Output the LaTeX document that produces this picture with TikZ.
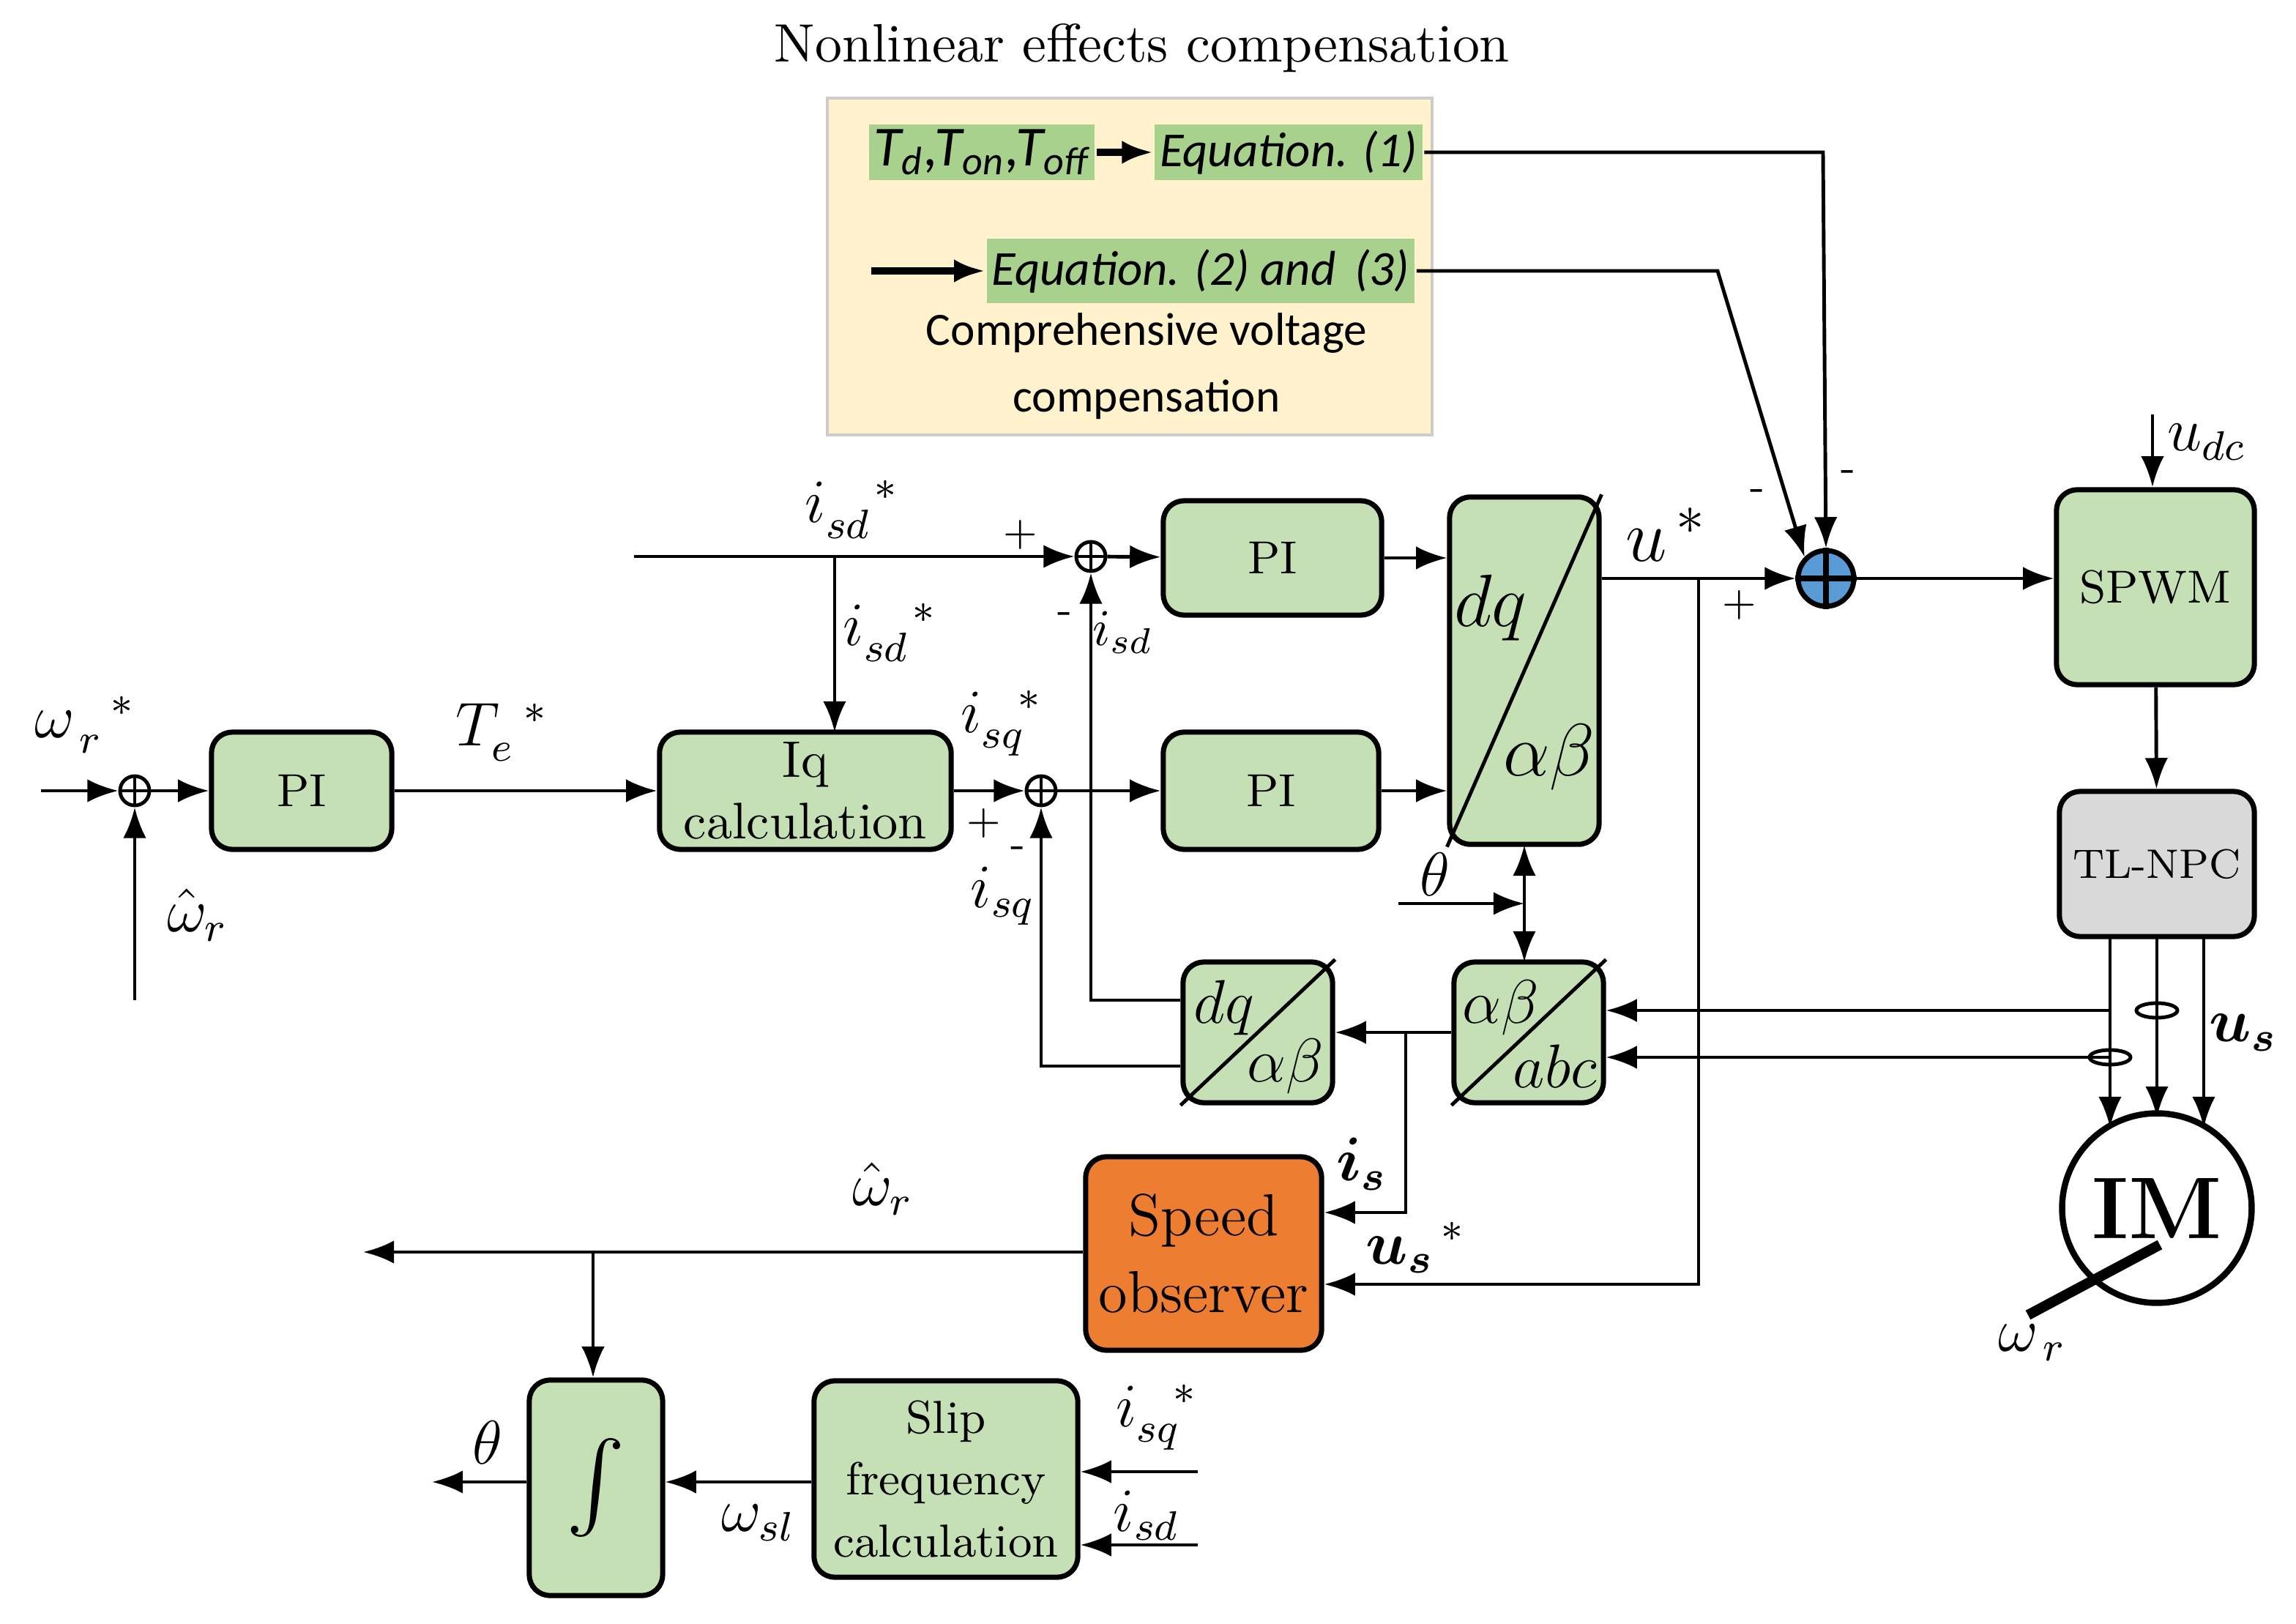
\documentclass[tikz,border=0pt]{standalone}
\usepackage{fontspec}
\usepackage{amsmath}
\newfontfamily\carl{Carlito}
\usetikzlibrary{arrows.meta}
\definecolor{blk}{HTML}{C5E0B4}
\definecolor{eqg}{HTML}{A9D18E}
\definecolor{yel}{HTML}{FFF2CC}
\definecolor{org}{HTML}{ED7D31}
\definecolor{sblue}{HTML}{5B9BD5}
\begin{document}
\begin{tikzpicture}[x=0.01cm,y=-0.01cm,
 >={Latex[length=6pt,width=4.5pt]}, line width=0.7pt,
 blk/.style={draw,fill=blk,rounded corners=4pt,line width=1pt,inner sep=1pt},
 eq/.style={fill=eqg,inner sep=1pt,font=\carl\itshape\fontsize{9.5}{11}\selectfont},
 lab/.style={font=\fontsize{12}{14}\selectfont},
 sm/.style={font=\fontsize{8}{10}\selectfont},
 bt/.style={align=center}]
\useasboundingbox (0,0) rectangle (1568,1109);
% top compensation
\node[font=\fontsize{10.5}{13}\selectfont] (title) at (780,33) {Nonlinear effects compensation};
\draw[gray!40,fill=yel] (565,67) rectangle (978,297);
\node[eq,minimum width=1.51cm,minimum height=0.38cm,font=\carl\itshape\fontsize{11}{13}\selectfont] (td) at (670.5,104) {T\textsubscript{d},T\textsubscript{on},T\textsubscript{off}};
\node[eq,minimum width=1.80cm,minimum height=0.38cm] (eq1) at (880,104) {Equation. (1)};
\node[eq,minimum width=2.80cm,minimum height=0.44cm] (eq2) at (820,185) {Equation. (2) and\, (3)};
\coordinate (e2in) at (595,185);
\draw[->,line width=1.3pt] (td) -- (eq1);
\draw[->,line width=1.3pt] (e2in) -- (eq2);
\node[bt,font=\carl\fontsize{9}{13}\selectfont] (cvc) at (783,250) {Comprehensive voltage\\compensation};
% sum blue
\node[circle,draw,fill=sblue,minimum size=0.38cm,inner sep=0,line width=1pt] (sb) at (1247,395) {};
\draw[line width=1pt] (sb.north)--(sb.south) (sb.west)--(sb.east);
\draw[->] (eq1.east) -- (1245,104) -- (sb.north);
\draw[->] (eq2.east) -- (1173,185) -- (sb.north west);
\node[sm] (m1) at (1200,338) {-};
\node[sm] (m2) at (1262,325) {-};
\node[sm] (p1) at (1188,413) {+};
% SPWM, TL-NPC, IM
\node[blk,minimum width=1.35cm,minimum height=1.33cm,font=\fontsize{9}{11}\selectfont] (spwm) at (1472,401) {SPWM};
\node[blk,fill=gray!30,minimum width=1.33cm,minimum height=0.99cm,font=\fontsize{8}{10}\selectfont] (tl) at (1473,590) {TL-NPC};
\node[circle,draw,line width=1.2pt,minimum size=1.24cm,font=\bfseries\fontsize{17}{19}\selectfont] (im) at (1473,825) {IM};
\draw[->] (sb) -- (sb-|spwm.west);
\coordinate (udc) at (1470,283);
\draw[->] (udc) -- (udc|-spwm.north);
\node[lab] (udcl) at (1507,302) {$u_{dc}$};
\draw[->] (spwm) -- (tl);
\draw[->] (1441,640) -- (1441,770);
\draw[->] (1473,640) -- (1473,763);
\draw[->] (1505,640) -- (1505,770);
\node[lab] (us) at (1532,705) {$\boldsymbol{u_s}$};
\draw[line width=2pt] (1475,850) -- (1385,898);
\node[lab] (wr2) at (1388,917) {$\omega_{\,r}$};
\draw (1473,690) ellipse (14 and 5);
\draw (1441,722) ellipse (14 and 5);
% dq / alphabeta boxes
\node[blk,minimum width=1.02cm,minimum height=2.37cm] (dqab) at (1041,458) {};
\draw (dqab.south west) -- (dqab.north east);
\node[font=\fontsize{15}{17}\selectfont] at (1018,415) {$dq$};
\node[font=\fontsize{15}{17}\selectfont] at (1058,517) {$\alpha\beta$};
\node[blk,minimum width=1.02cm,minimum height=0.96cm] (abc) at (1044,705) {};
\draw (abc.south west) -- (abc.north east);
\node[font=\fontsize{13}{15}\selectfont] at (1025,688) {$\alpha\beta$};
\node[font=\fontsize{13}{15}\selectfont] at (1062,728) {$abc$};
\node[blk,minimum width=1.02cm,minimum height=0.96cm] (dqb) at (859,705) {};
\draw (dqb.south west) -- (dqb.north east);
\node[font=\fontsize{13}{15}\selectfont] at (836,688) {$dq$};
\node[font=\fontsize{13}{15}\selectfont] at (878,728) {$\alpha\beta$};
\draw[->] (1441,690) -- (abc.east|-0,690);
\draw[->] (1441,722) -- (abc.east|-0,722);
\draw[->] (abc.west) -- (dqb.east);
% PI blocks
\node[circle,draw,minimum size=0.2cm,inner sep=0] (s1) at (745,380) {};
\draw (s1.north)--(s1.south) (s1.west)--(s1.east);
\node[circle,draw,minimum size=0.2cm,inner sep=0] (s2) at (711,540) {};
\draw (s2.north)--(s2.south) (s2.west)--(s2.east);
\node[circle,draw,minimum size=0.2cm,inner sep=0] (s0) at (92,540) {};
\draw (s0.north)--(s0.south) (s0.west)--(s0.east);
\node[blk,minimum width=1.49cm,minimum height=0.78cm,font=\fontsize{9}{11}\selectfont] (pi1) at (869,381) {PI};
\node[blk,minimum width=1.47cm,minimum height=0.80cm,font=\fontsize{9}{11}\selectfont] (pi2) at (868,540) {PI};
\node[blk,minimum width=1.23cm,minimum height=0.80cm,font=\fontsize{9}{11}\selectfont] (pi0) at (206,540) {PI};
\node[blk,minimum width=1.99cm,minimum height=0.80cm,font=\fontsize{10}{12}\selectfont,align=center] (iq) at (550,540) {Iq\\calculation};
\coordinate (isdin) at (433,380);
\draw[->] (isdin) -- (s1);
\node[lab] at (582,348) {$i_{sd}^{\;\;\;\;*}$};
\node[sm] at (697,365) {+};
\draw[->] (570,380) -- (570,500);
\node[lab] at (608,432) {$i_{sd}^{\;\;\;\;*}$};
\draw[->] (s1) -- (pi1);
\draw[->] (pi1) -- (pi1.east-|dqab.west);
\draw[->] (pi2) -- (pi2.east-|dqab.west);
\draw[->] (iq) -- (s2);
\draw[->] (s2) -- (pi2);
\coordinate (win) at (28,540);
\draw[->] (win) -- (s0);
\node[lab] at (58,495) {$\omega_{\,r}^{\;\;\;*}$};
\draw[->] (92,683) -- (s0);
\node[lab] at (135,625) {$\hat{\omega}_r$};
\draw[->] (s0) -- (pi0);
\draw[->] (pi0) -- (iq);
\node[lab] at (343,500) {$T_e^{\;\;*}$};
\node[lab] at (684,494) {$i_{sq}^{\;\;\;*}$};
\node[sm] at (672,562) {+};
\node[sm] at (695,582) {-};
\node[lab] at (685,612) {$i_{sq}$};
\draw[->] (dqb.west|-0,728) -- (711,728) -- (s2);
\draw[->] (dqb.west|-0,683) -- (745,683) -- (s1);
\node[sm] at (727,422) {-};
\node[font=\fontsize{10}{12}\selectfont] at (767,432) {$i_{sd}$};
% theta
\draw[<->] (1041,577) -- (1041,657);
\coordinate (thin) at (955,617);
\draw[->] (thin) -- (1041,617);
\node[lab] at (980,597) {$\theta$};
% u*
\draw[->] (dqab.east|-0,395) -- (sb);
\node[font=\fontsize{15}{17}\selectfont] at (1138,365) {$u^{\,*}$};
% speed observer
\node[draw,fill=org,rounded corners=4pt,line width=1pt,inner sep=1pt,minimum width=1.61cm,minimum height=1.32cm,align=center,font=\fontsize{11.5}{15}\selectfont] (so) at (822,856) {Speed\\observer};
\draw[->] (960,706) -- (960,828) -- (so.east|-0,828);
\node[lab] at (930,795) {$\boldsymbol{i_s}$};
\draw[->] (1160,395) -- (1160,877) -- (so.east|-0,877);
\node[lab] at (967,852) {$\boldsymbol{u_s}^{\,*}$};
\coordinate (wout) at (248,855);
\draw[->] (so.west|-0,855) -- (wout);
\node[lab] at (603,812) {$\hat{\omega}_r$};
% integrator & slip
\node[blk,minimum width=0.91cm,minimum height=1.47cm,font=\fontsize{17}{19}\selectfont] (int) at (407,1016) {$\int$};
\draw[->] (405,855) -- (int.north-|405,0);
\node[blk,minimum width=1.80cm,minimum height=1.34cm,align=center,font=\fontsize{9}{12}\selectfont] (slip) at (646,1010) {Slip\\frequency\\calculation};
\draw[->] (slip.west|-0,1012) -- (int.east|-0,1012);
\coordinate (tout) at (295,1012);
\draw[->] (int.west|-0,1012) -- (tout);
\node[lab] at (333,985) {$\theta$};
\node[lab] at (518,1040) {$\omega_{sl}$};
\coordinate (i1) at (818,1005);
\coordinate (i2) at (818,1055);
\draw[->] (i1) -- (slip.east|-i1);
\draw[->] (i2) -- (slip.east|-i2);
\node[lab] at (790,968) {$i_{sq}^{\;\;\;*}$};
\node[lab] at (783,1035) {$i_{sd}$};
\end{tikzpicture}
\end{document}
